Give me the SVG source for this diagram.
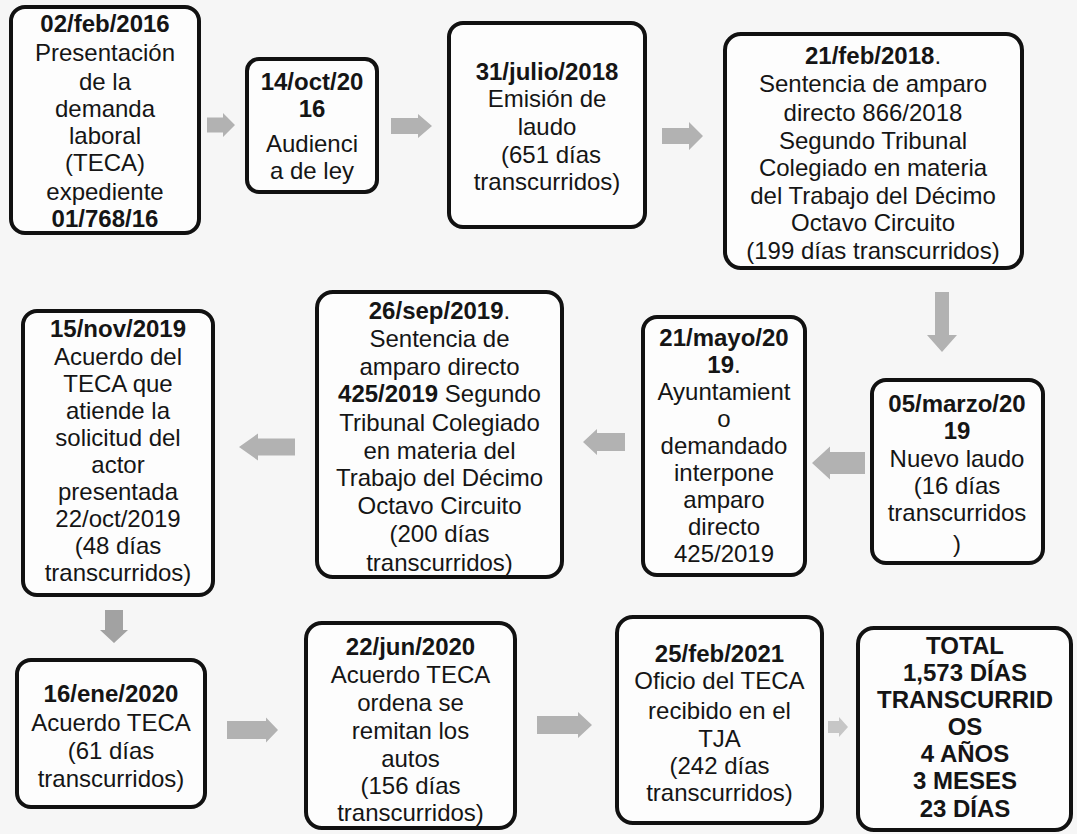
<svg xmlns="http://www.w3.org/2000/svg" width="1077" height="834" viewBox="0 0 1077 834">
<style>
.bx{fill:#fdfdfd;stroke:#111;stroke-width:4}
text{font-family:"Liberation Sans",Arial,sans-serif;font-size:24px;fill:#151515;text-anchor:middle}
.b{font-weight:bold}
.ar{fill:#b2b2b2}
</style>
<rect width="1077" height="834" fill="#f6f6f6"/>
<g id="connectors">
<path class="ar" d="M207 117.5 H223 V113 L235 125 L223 137 V132.5 H207 Z"/>
<path class="ar" d="M391 118 H418 V114 L432 126 L418 138 V134 H391 Z"/>
<path class="ar" d="M662 128 H689 V122 L703 136 L689 150 V144 H662 Z"/>
<path class="ar" d="M935 292 H949 V335 H957 L942 352 L927 335 H935 Z"/>
<path class="ar" d="M865 452 H830 V446.5 L812 463 L830 479.5 V474 H865 Z"/>
<path class="ar" d="M625 433 H597 V429 L583 442 L597 455 V451 H625 Z"/>
<path class="ar" d="M295 438.5 H258 V433.5 L239 447 L258 460.5 V455.5 H295 Z"/>
<path class="ar" style="fill:#a2a2a2" d="M105 610 H123 V630 H128 L114 643 L100 630 H105 Z"/>
<path class="ar" d="M227 721 H266 V717.5 L278 730 L266 742.5 V739 H227 Z"/>
<path class="ar" d="M537 716 H578 V712 L592 725 L578 738 V734 H537 Z"/>
<path class="ar" style="fill:#c6c6c6" d="M828 721 H839 V717 L848 727 L839 737 V733 H828 Z"/>
</g>
<g id="n1">
<rect class="bx" x="11" y="7" width="188" height="226" rx="14"/>
<text x="105" y="32" class="b">02/feb/2016</text>
<text x="105" y="61">Presentación</text>
<text x="105" y="90">de la</text>
<text x="105" y="117">demanda</text>
<text x="105" y="144">laboral</text>
<text x="105" y="171">(TECA)</text>
<text x="105" y="200">expediente</text>
<text x="105" y="227" class="b">01/768/16</text>
</g>
<g id="n2">
<rect class="bx" x="247" y="59" width="130" height="133" rx="12"/>
<text x="312" y="90" class="b">14/oct/20</text>
<text x="312" y="117" class="b">16</text>
<text x="312" y="152">Audienci</text>
<text x="312" y="179">a de ley</text>
</g>
<g id="n3">
<rect class="bx" x="449" y="23" width="196" height="204" rx="14"/>
<text x="547" y="80" class="b">31/julio/2018</text>
<text x="547" y="107">Emisión de</text>
<text x="547" y="135">laudo</text>
<text x="551" y="163">(651 días</text>
<text x="547" y="190">transcurridos)</text>
</g>
<g id="n4">
<rect class="bx" x="725" y="34" width="297" height="234" rx="16"/>
<text x="873" y="64"><tspan class="b">21/feb/2018</tspan>.</text>
<text x="873" y="92">Sentencia de amparo</text>
<text x="873" y="121">directo 866/2018</text>
<text x="873" y="149">Segundo Tribunal</text>
<text x="873" y="176">Colegiado en materia</text>
<text x="873" y="204">del Trabajo del Décimo</text>
<text x="873" y="231">Octavo Circuito</text>
<text x="873" y="259">(199 días transcurridos)</text>
</g>
<g id="n5">
<rect class="bx" x="872" y="380" width="171" height="183" rx="14"/>
<text x="957" y="412" class="b">05/marzo/20</text>
<text x="957" y="439" class="b">19</text>
<text x="957" y="467">Nuevo laudo</text>
<text x="957" y="494">(16 días</text>
<text x="957" y="521">transcurridos</text>
<text x="957" y="552">)</text>
</g>
<g id="n6">
<rect class="bx" x="643" y="317" width="162" height="258" rx="14"/>
<text x="724" y="346" class="b">21/mayo/20</text>
<text x="724" y="373"><tspan class="b">19</tspan>.</text>
<text x="724" y="400">Ayuntamient</text>
<text x="724" y="427">o</text>
<text x="724" y="454">demandado</text>
<text x="724" y="481">interpone</text>
<text x="724" y="508">amparo</text>
<text x="724" y="535">directo</text>
<text x="724" y="562">425/2019</text>
</g>
<g id="n7">
<rect class="bx" x="317" y="292" width="245" height="285" rx="16"/>
<text x="439.5" y="319"><tspan class="b">26/sep/2019</tspan>.</text>
<text x="439.5" y="347">Sentencia de</text>
<text x="439.5" y="375">amparo directo</text>
<text x="439.5" y="402"><tspan class="b">425/2019</tspan> Segundo</text>
<text x="439.5" y="431">Tribunal Colegiado</text>
<text x="439.5" y="459">en materia del</text>
<text x="439.5" y="486">Trabajo del Décimo</text>
<text x="439.5" y="514">Octavo Circuito</text>
<text x="439.5" y="542">(200 días</text>
<text x="439.5" y="571">transcurridos)</text>
</g>
<g id="n8">
<rect class="bx" x="23" y="311" width="190" height="284" rx="14"/>
<text x="118" y="337" class="b">15/nov/2019</text>
<text x="118" y="365">Acuerdo del</text>
<text x="118" y="392">TECA que</text>
<text x="118" y="419">atiende la</text>
<text x="118" y="446">solicitud del</text>
<text x="118" y="473">actor</text>
<text x="118" y="500">presentada</text>
<text x="118" y="527">22/oct/2019</text>
<text x="118" y="554">(48 días</text>
<text x="118" y="581">transcurridos)</text>
</g>
<g id="n9">
<rect class="bx" x="17" y="660" width="188" height="147" rx="14"/>
<text x="111" y="702" class="b">16/ene/2020</text>
<text x="111" y="731">Acuerdo TECA</text>
<text x="111" y="759">(61 días</text>
<text x="111" y="787">transcurridos)</text>
</g>
<g id="n10">
<rect class="bx" x="306" y="623" width="209" height="205" rx="16"/>
<text x="410.5" y="655" class="b">22/jun/2020</text>
<text x="410.5" y="683">Acuerdo TECA</text>
<text x="410.5" y="711">ordena se</text>
<text x="410.5" y="739">remitan los</text>
<text x="410.5" y="767">autos</text>
<text x="410.5" y="794">(156 días</text>
<text x="410.5" y="821">transcurridos)</text>
</g>
<g id="n11">
<rect class="bx" x="617" y="617" width="205" height="206" rx="16"/>
<text x="719.5" y="662" class="b">25/feb/2021</text>
<text x="719.5" y="689">Oficio del TECA</text>
<text x="719.5" y="719">recibido en el</text>
<text x="719.5" y="747">TJA</text>
<text x="719.5" y="774">(242 días</text>
<text x="719.5" y="801">transcurridos)</text>
</g>
<g id="n12">
<rect class="bx" x="858" y="628" width="213" height="202" rx="16"/>
<text x="965" y="654" class="b">TOTAL</text>
<text x="965" y="681" class="b">1,573 DÍAS</text>
<text x="965" y="708" class="b">TRANSCURRID</text>
<text x="965" y="735" class="b">OS</text>
<text x="965" y="762" class="b">4 AÑOS</text>
<text x="965" y="789" class="b">3 MESES</text>
<text x="965" y="817" class="b">23 DÍAS</text>
</g>
</svg>
